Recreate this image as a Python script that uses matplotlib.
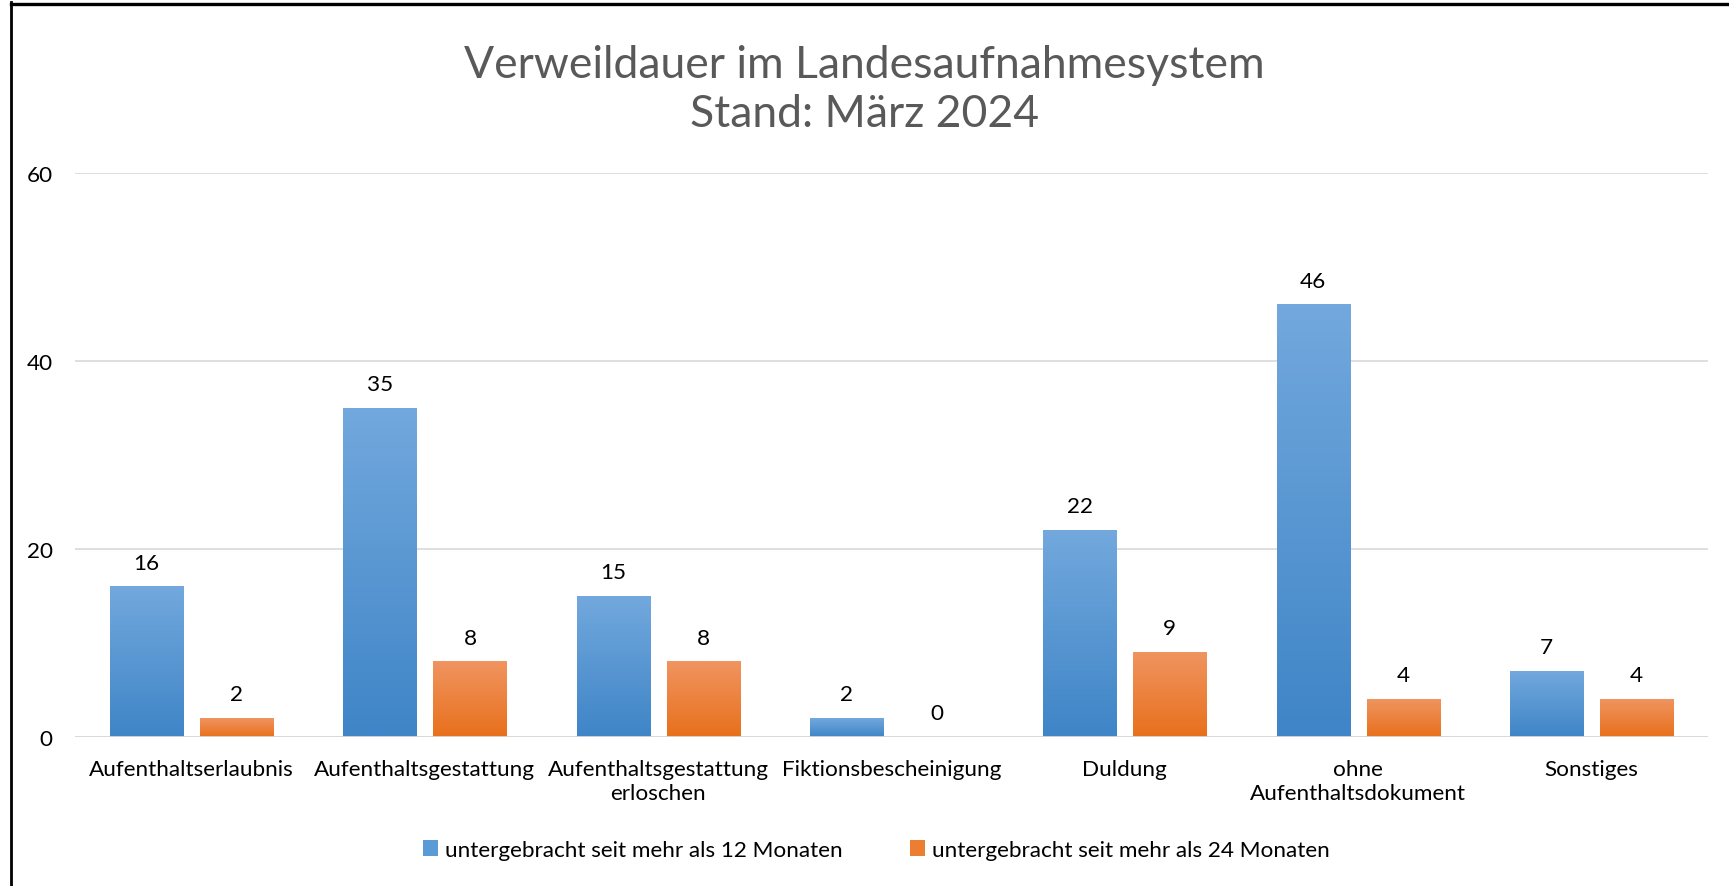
import numpy as np
import matplotlib.pyplot as plt
from matplotlib.lines import Line2D
from matplotlib.patches import Patch

plt.rcParams['font.family'] = ['Lato', 'DejaVu Sans']

# data
categories = ['Aufenthaltserlaubnis', 'Aufenthaltsgestattung', 'Aufenthaltsgestattung\nerloschen',
              'Fiktionsbescheinigung', 'Duldung', 'ohne\nAufenthaltsdokument', 'Sonstiges']
seit_12 = [16, 35, 15, 2, 22, 46, 7]
seit_24 = [2, 8, 8, 0, 9, 4, 4]
series_names = ['untergebracht seit mehr als 12 Monaten', 'untergebracht seit mehr als 24 Monaten']
yticks = [0, 20, 40, 60]

blue_top, blue_bot = '#72A8DD', '#3F85C7'
orange_top, orange_bot = '#F09460', '#E8701C'
fs = 16.2

W, H = 1729, 887
fig = plt.figure(figsize=(W / 100, H / 100), dpi=100)
ax = fig.add_axes([75 / W, (H - 738) / H, (1708 - 75) / W, (738 - 174) / H])

x = np.arange(len(categories))
bw = 0.313
off = 0.193
b1 = ax.bar(x - off, seit_12, bw, color='#5A9BD5', zorder=2)
b2 = ax.bar(x + off, seit_24, bw, color='#ED7D31', zorder=2)


def make_grad(c_top, c_bot, n=64):
    t = np.array(plt.matplotlib.colors.to_rgb(c_top))
    b = np.array(plt.matplotlib.colors.to_rgb(c_bot))
    f = np.linspace(0, 1, n)[:, None]
    return (t * (1 - f) + b * f)[:, None, :]


# gradient fill over each bar
for bars, ct, cb in [(b1, blue_top, blue_bot), (b2, orange_top, orange_bot)]:
    g = make_grad(ct, cb)
    for p in bars:
        h = p.get_height()
        if h <= 0:
            continue
        x0 = p.get_x()
        ax.imshow(g, extent=[x0, x0 + p.get_width(), 0, h], aspect='auto',
                  origin='upper', zorder=3, interpolation='bilinear')

# value labels
for bars, vals in [(b1, seit_12), (b2, seit_24)]:
    for p, v in zip(bars, vals):
        ax.annotate(str(v), (p.get_x() + p.get_width() / 2, v), xytext=(0, 13),
                    textcoords='offset points', ha='center', va='baseline',
                    fontsize=fs, color='#000000')

ax.set_xlim(-0.5, len(categories) - 0.5)
ax.set_ylim(0, 60)
ax.set_yticks(yticks)
ax.set_xticks(x)
ax.set_xticklabels(categories, fontsize=fs, linespacing=1.3)
ax.tick_params(axis='x', length=0, pad=15.5)
ax.tick_params(axis='y', length=0, pad=16, labelsize=fs)
for s in ax.spines.values():
    s.set_visible(False)
ax.grid(axis='y', color='#D9D9D9', linewidth=1.2, zorder=0)
ax.axhline(0, color='#D9D9D9', linewidth=2, zorder=4)
ax.set_facecolor('none')

fig.suptitle('Verweildauer im Landesaufnahmesystem\nStand: März 2024', x=0.5,
             y=(H - 45) / H, fontsize=32, color='#595959', va='top', linespacing=1.25)

handles = [Patch(facecolor='#5A9BD5'), Patch(facecolor='#ED7D31')]
fig.legend(handles, series_names, loc='center', bbox_to_anchor=(876 / W, (H - 851) / H),
           ncol=2, frameon=False, fontsize=fs, handlelength=0.68, handleheight=0.68,
           handletextpad=0.3, columnspacing=3.0)

# chart border (top and left)
fig.add_artist(Line2D([11 / W, 1], [(H - 4.5) / H, (H - 4.5) / H], color='black', linewidth=2.4))
fig.add_artist(Line2D([11 / W, 11 / W], [0, (H - 3) / H], color='black', linewidth=2.0))

fig.savefig('out.png', dpi=100)
